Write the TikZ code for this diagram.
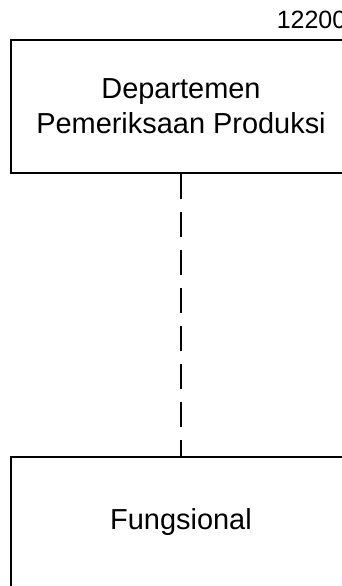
\documentclass[tikz,border=0pt]{standalone}
\usepackage{fontspec}
\setmainfont{Liberation Sans}
\usepackage{tikz}

\tikzset{
  unitbox/.style={draw, line width=1.9pt, minimum width=255pt, inner sep=0pt, align=center, font=\fontsize{21.7}{26.25}\selectfont},
  link/.style={line width=1.9pt, dash pattern=on 18.75pt off 9.75pt}
}

\begin{document}
\begin{tikzpicture}[x=0.75pt,y=0.75pt,yscale=-1,xscale=1]
%set diagram size 342 x 586, boxes run past the right and bottom edges
\clip (0,0) rectangle (342,586);

%Box: departemen
\node [unitbox, minimum height=99.75pt] (dept) at (181,106.5) {Departemen\\Pemeriksaan Produksi};
%Box: fungsional
\node [unitbox, minimum height=97.5pt] (fung) at (181,522) {Fungsional};

%Dashed Lines
\draw [link] (dept.south) -- (fung.north);

% Text Node
\node [anchor=base west, inner sep=0pt, font=\fontsize{18.75}{22}\selectfont] (code) at (276.5,28) {12200};

\end{tikzpicture}
\end{document}
